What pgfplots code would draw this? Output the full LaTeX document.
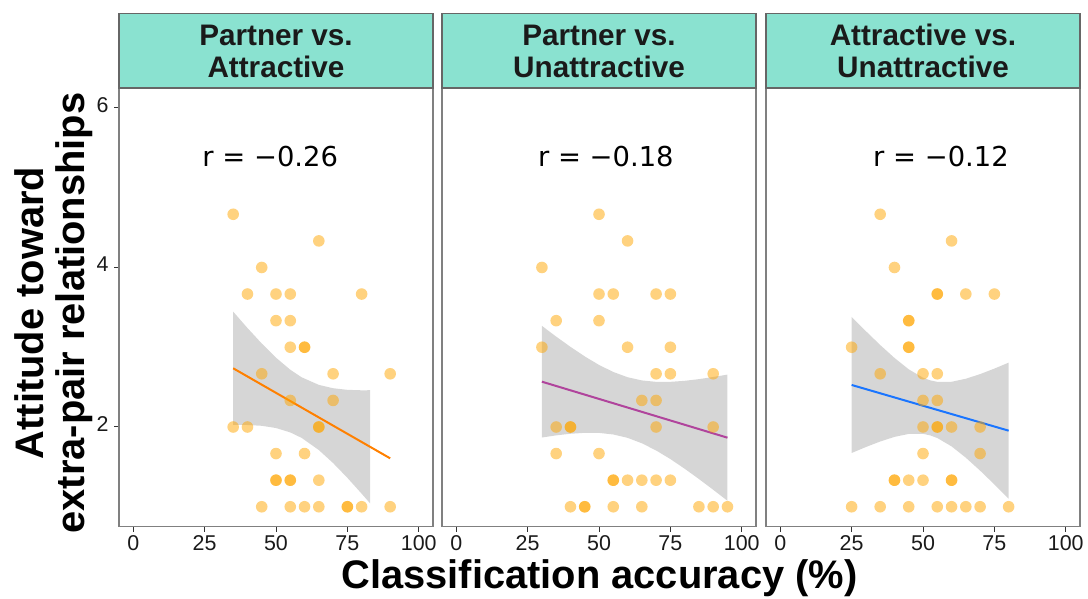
\documentclass[border=0pt]{standalone}
\usepackage{fontspec}
\setmainfont{Liberation Sans}
\newfontfamily\rfont{DejaVu Sans}
\usepackage{pgfplots}
\usepackage{pgfplotstable}
\pgfplotsset{compat=1.18}
\definecolor{stripc}{HTML}{8AE2D0}
\definecolor{stripb}{HTML}{666666}
\definecolor{pt}{HTML}{FFA500}
\definecolor{bandc}{HTML}{999999}
\definecolor{lA}{HTML}{FF8000}
\definecolor{lB}{HTML}{B0449C}
\definecolor{lC}{HTML}{1A75FF}
\definecolor{framec}{HTML}{808080}
\definecolor{tickc}{HTML}{333333}
\definecolor{txtc}{HTML}{1A1A1A}

\pgfplotstableread{
x y
35 4.667
65 4.333
45 4.000
40 3.667
50 3.667
55 3.667
80 3.667
50 3.333
55 3.333
55 3.000
60 3.000
60 3.000
45 2.667
70 2.667
90 2.667
55 2.333
70 2.333
35 2.000
40 2.000
65 2.000
65 2.000
50 1.667
60 1.667
50 1.333
50 1.333
55 1.333
55 1.333
65 1.333
45 1.000
55 1.000
60 1.000
65 1.000
75 1.000
75 1.000
80 1.000
90 1.000
}\ptsA

\pgfplotstableread{
x y
50 4.667
60 4.333
30 4.000
50 3.667
55 3.667
70 3.667
75 3.667
35 3.333
50 3.333
30 3.000
60 3.000
75 3.000
70 2.667
75 2.667
90 2.667
65 2.333
70 2.333
35 2.000
40 2.000
40 2.000
70 2.000
90 2.000
35 1.667
50 1.667
55 1.333
55 1.333
60 1.333
65 1.333
70 1.333
75 1.333
40 1.000
45 1.000
45 1.000
55 1.000
65 1.000
85 1.000
90 1.000
95 1.000
}\ptsB

\pgfplotstableread{
x y
35 4.667
60 4.333
40 4.000
55 3.667
55 3.667
65 3.667
75 3.667
45 3.333
45 3.333
25 3.000
45 3.000
45 3.000
35 2.667
50 2.667
55 2.667
50 2.333
55 2.333
50 2.000
55 2.000
55 2.000
60 2.000
70 2.000
50 1.667
70 1.667
40 1.333
40 1.333
45 1.333
50 1.333
60 1.333
60 1.333
25 1.000
35 1.000
45 1.000
55 1.000
60 1.000
65 1.000
70 1.000
80 1.000
}\ptsC

\pgfplotsset{
  panel/.style={
    anchor=south west, width=314bp, height=438.7bp, scale only axis,
    xmin=-5, xmax=105, ymin=0.75, ymax=6.25,
    xtick={0,25,50,75,100}, ytick={2,4,6},
    tick pos=left,
    tick align=outside, major tick length=5bp,
    tick style={color=tickc, line width=1bp},
    axis line style={color=framec, line width=1.1bp},
    ticklabel style={font=\fontsize{21.5}{21.5}\selectfont, text=txtc},
    yticklabel style={xshift=-2bp},
    /pgf/number format/assume math mode=true,
    typeset ticklabels with strut,
  },
  pts/.style={only marks, mark=*, mark size=5.8bp, color=pt,
    mark options={fill=pt, draw opacity=0, fill opacity=0.5}},
  band/.style={fill=bandc, fill opacity=0.4, draw=none},
}

\newcommand{\rtext}{\rfont\fontsize{27.5}{27.5}\selectfont}
\newcommand{\striptext}{\fontsize{29.8}{29.8}\selectfont\bfseries}

\begin{document}
\begin{tikzpicture}
\useasboundingbox (0,0) rectangle (1088bp,599bp);

% Panel 1
\begin{axis}[panel, name=p1, at={(119bp,72.3bp)}]
\addplot[pts] table {\ptsA};
\addplot[band] coordinates {
(35,3.446) (40,3.241) (45,3.047) (50,2.869) (55,2.718) (59,2.623) (65,2.528)
(70,2.486) (75,2.466) (80,2.460) (83,2.461)
(83,1.041) (80,1.164) (75,1.363) (70,1.548) (65,1.711) (59,1.863) (55,1.932)
(50,1.987) (45,2.015) (40,2.025) (35,2.026)} -- cycle;
\addplot[lA, line width=2bp] coordinates {(35,2.736) (90,1.607)};
\node[text=black, font=\rtext] at (axis cs:48,5.39) {r = −0.26};
\end{axis}

% Panel 2
\begin{axis}[panel, name=p2, at={(442bp,72.3bp)}, ytick=\empty]
\addplot[pts] table {\ptsB};
\addplot[band] coordinates {
(30,3.268) (35,3.133) (40,3.005) (45,2.885) (50,2.778) (55,2.690) (60,2.624)
(65,2.584) (70,2.566) (75,2.566) (80,2.579) (85,2.600) (90,2.627) (95,2.657)
(95,1.075) (90,1.213) (85,1.348) (80,1.477) (75,1.598) (70,1.706) (65,1.796)
(60,1.864) (55,1.906) (50,1.926) (45,1.927) (40,1.915) (35,1.895) (30,1.868)} -- cycle;
\addplot[lB, line width=2bp] coordinates {(30,2.568) (95,1.866)};
\node[text=black, font=\rtext] at (axis cs:52.4,5.39) {r = −0.18};
\end{axis}

% Panel 3
\begin{axis}[panel, name=p3, at={(766bp,72.3bp)}, ytick=\empty]
\addplot[pts] table {\ptsC};
\addplot[band] coordinates {
(25,3.380) (30,3.201) (35,3.028) (40,2.866) (45,2.723) (50,2.618) (52.5,2.585)
(55,2.566) (60,2.567) (65,2.605) (70,2.663) (75,2.732) (80,2.807)
(80,1.101) (75,1.280) (70,1.453) (65,1.615) (60,1.757) (55,1.862) (52.5,1.895)
(50,1.914) (45,1.913) (40,1.876) (35,1.818) (30,1.749) (25,1.674)} -- cycle;
\addplot[lC, line width=2bp] coordinates {(25,2.527) (80,1.954)};
\node[text=black, font=\rtext] at (axis cs:56.3,5.39) {r = −0.12};
\end{axis}

% Strips
\foreach \p/\a/\b in {p1/Partner vs./Attractive, p2/Partner vs./Unattractive, p3/Attractive vs./Unattractive}{
  \filldraw[fill=stripc, draw=stripb, line width=1.1bp] (\p.north west) rectangle ([yshift=74.7bp]\p.north east);
  \node[anchor=base, text=txtc, font=\striptext, inner sep=0pt] at ([yshift=43bp]\p.north) {\a};
  \node[anchor=base, text=txtc, font=\striptext, inner sep=0pt] at ([yshift=10.3bp]\p.north) {\b};
}

% Axis titles
\node[anchor=base, inner sep=0pt, font=\fontsize{40}{40}\selectfont\bfseries] at (599.5bp,10.4bp) {Classification accuracy (\%)};
\node[anchor=base, rotate=90, inner sep=0pt, font=\fontsize{40}{40}\selectfont\bfseries] at (43bp,286bp) {Attitude toward};
\node[anchor=base, rotate=90, inner sep=0pt, font=\fontsize{40}{40}\selectfont\bfseries] at (84bp,286bp) {extra-pair relationships};
\end{tikzpicture}
\end{document}
